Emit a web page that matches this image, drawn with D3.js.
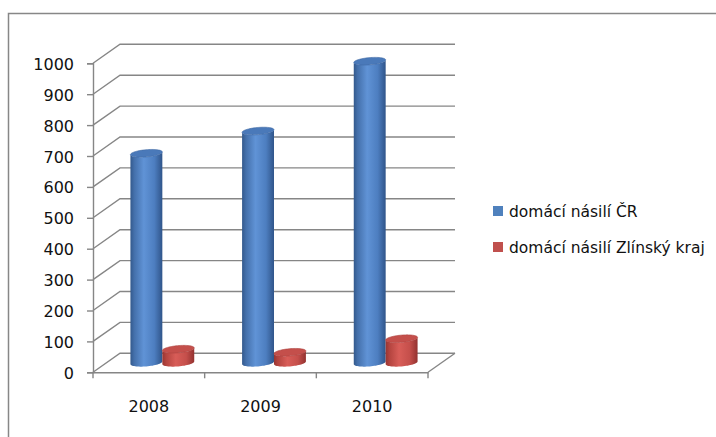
<!DOCTYPE html>
<html>
<head>
<meta charset="utf-8">
<script src="https://cdn.jsdelivr.net/npm/d3@7"></script>
<style>
  body { margin: 0; background: #fff; }
  text { font-family: "DejaVu Sans", sans-serif; fill: #111; }
</style>
</head>
<body>
<svg id="chart" width="716" height="437"></svg>
<script>
// data
const years = ["2008", "2009", "2010"]
const seriesNames = ["domácí násilí ČR", "domácí násilí Zlínský kraj"]
const valuesCR = [678, 750, 976]
const valuesZlin = [44, 34, 78]
const yTicks = [0, 100, 200, 300, 400, 500, 600, 700, 800, 900, 1000]

const svg = d3.select("#chart")

// 3d depth offset of the back wall
const depth = {dx: 27, dy: -19}

const xScale = d3.scaleBand().domain(years).range([93, 428])
const yScale = d3.scaleLinear().domain([0, 1000]).range([372.3, 63.3])

// outer frame (only top and left are inside the picture)
svg.append("path")
    .attr("d", "M8.5,440 L8.5,13.5 L720,13.5")
    .attr("fill", "none").attr("stroke", "#878787").attr("stroke-width", 1.5)

const grid = svg.append("g").attr("stroke", "#868686").attr("stroke-width", 1.4).attr("fill", "none")

// left wall diagonals + back wall lines
yTicks.forEach(v => {
    const y = yScale(v)
    grid.append("path")
        .attr("d", `M93,${y} L${93 + depth.dx},${y + depth.dy} L${428 + depth.dx},${y + depth.dy}`)
})
// floor right edge
grid.append("line")
    .attr("x1", 428).attr("y1", yScale(0))
    .attr("x2", 428 + depth.dx).attr("y2", yScale(0) + depth.dy)

// y axis
const y_axis = d3.axisLeft(yScale).tickValues(yTicks).tickFormat(d3.format("d"))
    .tickSize(6).tickPadding(13)
const gy = svg.append("g").attr("transform", "translate(93,0)").call(y_axis)
gy.select(".domain").attr("stroke", "#868686").attr("stroke-width", 1.4)
gy.selectAll(".tick line").attr("stroke", "#868686").attr("stroke-width", 1.4)
gy.selectAll("text").style("font-size", "16px").attr("dy", "0.38em")

// x axis
const gx = svg.append("g").attr("transform", `translate(0,${yScale(0)})`)
    .call(d3.axisBottom(xScale).tickSize(0).tickPadding(28))
gx.select(".domain").attr("stroke", "#868686").attr("stroke-width", 1.4)
gx.selectAll("text").style("font-size", "16px")
// tick marks on category boundaries
const bounds = years.map(d => xScale(d)).concat([xScale.range()[1]])
gx.selectAll(".bound").data(bounds).join("line")
    .attr("x1", d => d).attr("x2", d => d).attr("y1", 0).attr("y2", 6)
    .attr("stroke", "#868686").attr("stroke-width", 1.4)

// gradients
const defs = svg.append("defs")
const gradients = [
    {id: "gBlue", stops: [["0", "#33598c"], ["0.12", "#4470ab"], ["0.42", "#6093d6"], ["0.75", "#4d7ec0"], ["1", "#30558a"]]},
    {id: "gRed", stops: [["0", "#983532"], ["0.12", "#b4443f"], ["0.42", "#d85d58"], ["0.75", "#c54f4b"], ["1", "#933230"]]}
]
gradients.forEach(g => {
    defs.append("linearGradient").attr("id", g.id)
        .attr("x1", 0).attr("x2", 1).attr("y1", 0).attr("y2", 0)
        .selectAll("stop").data(g.stops).join("stop")
        .attr("offset", d => d[0]).attr("stop-color", d => d[1])
})
const tops = ["#4a79b9", "#c44f4b"]
const topStroke = ["#3f6aa5", "#ad4340"]

// cylinder geometry (oblique projection)
const bw = xScale.bandwidth() / 3.5
const a = 0.364, b = -0.256
const r = bw / 2 / Math.sqrt(1 + a * a)
const t0 = Math.atan(a)
const pt = (cx, cy, t) => [cx + r * Math.cos(t) + a * r * Math.sin(t), cy + b * r * Math.sin(t)]

const ellipsePath = (cx, cy) => {
    const p = d3.range(0, 65).map(i => pt(cx, cy, i / 64 * 2 * Math.PI))
    return d3.line()(p) + "Z"
}
const bodyPath = (cx, yb, yt) => {
    const n = 32
    const left = pt(cx, yt, t0 + Math.PI)
    const pts = [left]
    d3.range(0, n + 1).forEach(i => pts.push(pt(cx, yb, t0 + Math.PI + i / n * Math.PI)))
    d3.range(0, n + 1).forEach(i => pts.push(pt(cx, yt, t0 + 2 * Math.PI - i / n * Math.PI)))
    return d3.line()(pts) + "Z"
}

const series = [valuesCR, valuesZlin]
const bars = svg.append("g")
years.forEach((yr, i) => {
    const cxCat = xScale(yr) + xScale.bandwidth() / 2 + depth.dx / 2
    series.forEach((vals, s) => {
        const cx = cxCat + (s === 0 ? -bw / 2 : bw / 2)
        const yb = yScale(0) + depth.dy / 2
        const yt = yScale(vals[i]) + depth.dy / 2
        bars.append("path").attr("d", bodyPath(cx, yb, yt))
            .attr("fill", `url(#${gradients[s].id})`)
        bars.append("path").attr("d", ellipsePath(cx, yt))
            .attr("fill", tops[s]).attr("stroke", topStroke[s]).attr("stroke-width", 0.6)
    })
})

// legend
const legendColors = ["#4f81bd", "#c0504d"]
const legend = svg.append("g")
seriesNames.forEach((name, i) => {
    const g = legend.append("g").attr("transform", `translate(493,${206 + i * 36})`)
    g.append("rect").attr("width", 10).attr("height", 10).attr("fill", legendColors[i])
    g.append("text").attr("x", 16).attr("y", 11).style("font-size", "15.5px").text(name)
})
</script>
</body>
</html>
